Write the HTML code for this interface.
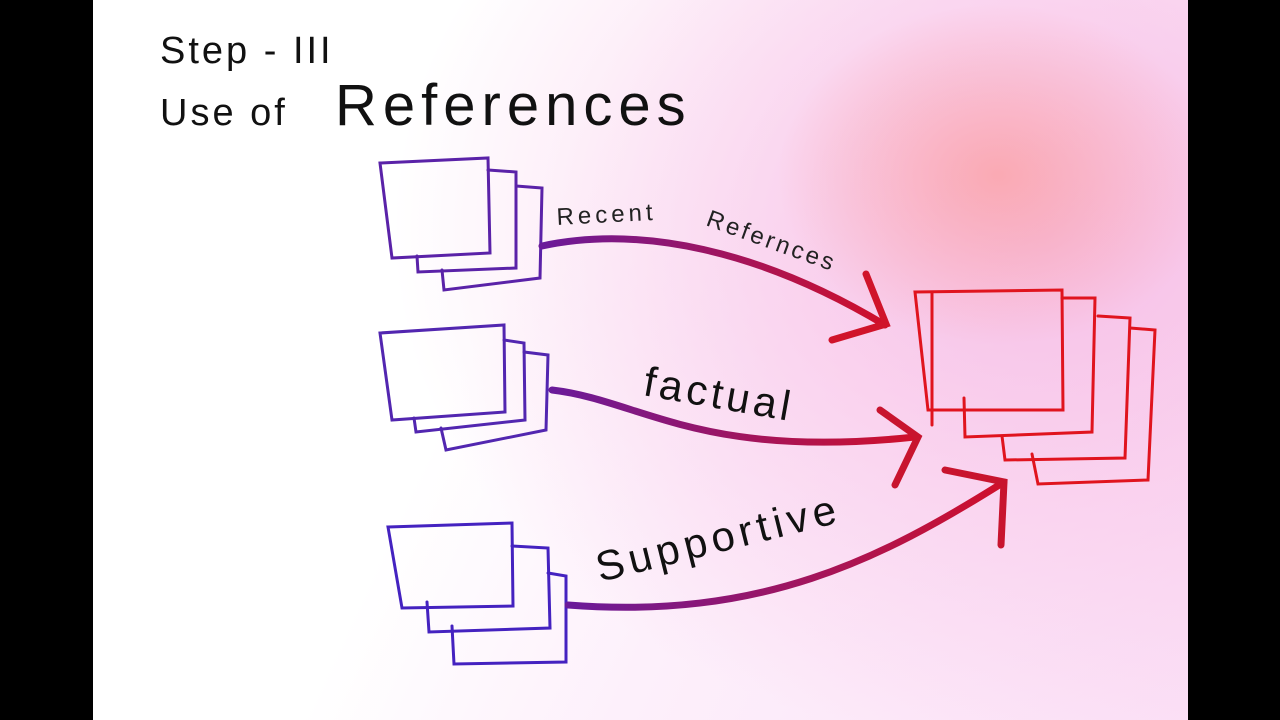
<!DOCTYPE html>
<html><head><style>
html,body{margin:0;padding:0;background:#000;}
#c{position:absolute;left:93px;top:0;width:1095px;height:720px;overflow:hidden;
background:
radial-gradient(ellipse 220px 170px at 905px 175px, rgba(250,165,170,0.85), rgba(250,165,170,0) 100%),
radial-gradient(ellipse 650px 520px at 950px 230px, rgba(246,180,225,0.8), rgba(255,210,245,0) 100%),
linear-gradient(115deg,#fff 0%,#fff 38%,#fdf0fb 60%,#fbe0f6 100%);}
svg{position:absolute;left:0;top:0}
text{font-family:"Liberation Sans",sans-serif;}
</style></head><body>
<div id="c"></div>
<svg width="1280" height="720" viewBox="0 0 1280 720">
<defs>
<linearGradient id="g1" x1="0" x2="1"><stop offset="0" stop-color="#6a1a9a"/><stop offset="1" stop-color="#d0102a"/></linearGradient>
</defs>
<text x="160" y="63" font-size="38" fill="#111" letter-spacing="3">Step - III</text>
<text x="160" y="125" font-size="38" fill="#111" letter-spacing="3">Use of</text>
<text x="335" y="125" font-size="58" fill="#111" letter-spacing="6">References</text>
<g fill="none" stroke-width="3" stroke-linecap="round">
<g stroke="#5a22a8">
<path d="M380 163 L488 158 L490 253 L392 258 Z"/>
<path d="M488 170 L516 172 L516 268 L418 272 L417 256"/>
<path d="M516 186 L542 188 L540 278 L444 290 L442 270"/>
</g>
<g stroke="#5226b0">
<path d="M380 333 L504 325 L505 412 L392 420 Z"/>
<path d="M504 340 L524 343 L525 420 L416 432 L414 418"/>
<path d="M524 352 L548 355 L546 430 L446 450 L441 428"/>
</g>
<g stroke="#4422c0">
<path d="M388 527 L512 523 L513 606 L402 608 Z"/>
<path d="M512 546 L548 548 L550 628 L429 632 L427 602"/>
<path d="M548 573 L566 576 L566 662 L454 664 L452 626"/>
</g>
<g stroke="#e0141e">
<path d="M915 292 L1062 290 L1063 410 L928 410 Z"/>
<path d="M932 292 L932 425"/>
<path d="M1062 298 L1095 298 L1092 432 L965 437 L964 398"/>
<path d="M1098 316 L1130 318 L1125 458 L1005 460 L1002 436"/>
<path d="M1130 328 L1155 330 L1148 480 L1038 484 L1032 454"/>
</g>
<path d="M542 246 C640 225 760 250 885 325" stroke="url(#g1)" stroke-width="7"/>
<path d="M866 274 L886 324 L832 340" stroke="#d0142a" stroke-width="7"/>
<path d="M552 390 C640 400 700 460 915 437" stroke="url(#g1)" stroke-width="7"/>
<path d="M880 410 L918 437 L895 485" stroke="#c8142e" stroke-width="7"/>
<path d="M568 605 C760 620 880 560 1004 482" stroke="url(#g1)" stroke-width="7"/>
<path d="M945 470 L1004 482 L1001 545" stroke="#c8142e" stroke-width="7"/>
</g>
<text font-size="24" fill="#222" letter-spacing="4" transform="translate(557,225) rotate(-3)">Recent</text>
<text font-size="24" fill="#222" letter-spacing="3" transform="translate(705,225) rotate(20)">Refernces</text>
<text font-size="42" fill="#111" letter-spacing="4" transform="translate(642,395) rotate(10)">factual</text>
<text font-size="42" fill="#111" letter-spacing="5" transform="translate(600,582) rotate(-14)">Supportive</text>
</svg>
</body></html>
